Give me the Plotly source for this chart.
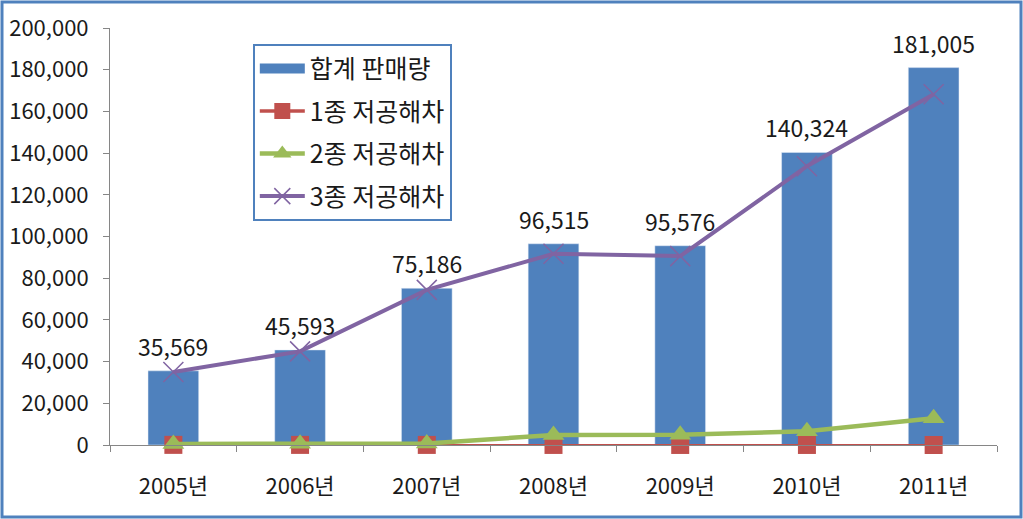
import plotly.graph_objects as go

years = ["2005년", "2006년", "2007년", "2008년", "2009년", "2010년", "2011년"]
total_sales = [35569, 45593, 75186, 96515, 95576, 140324, 181005]
type1 = [60, 50, 40, 30, 20, 20, 10]
type2 = [500, 600, 700, 4800, 4900, 6600, 12800]
type3 = [35000, 44900, 74400, 91700, 90600, 133700, 168200]

W, H = 1023, 519
ML, MR, MT, MB = 110, 26, 28, 74
FONT = "Noto Sans CJK KR, Noto Sans, sans-serif"

fig = go.Figure()
fig.add_trace(go.Bar(x=years, y=total_sales, name="합계 판매량", showlegend=False,
                     marker=dict(color="#4F81BD"), width=0.4))
# legend entry for the bar series drawn as a wide rectangle
fig.add_trace(go.Scatter(x=[None], y=[None], name="합계 판매량", mode="lines",
                         legendgroup="g0", line=dict(color="#4F81BD", width=14)))
fig.add_trace(go.Scatter(x=years, y=type1, name="1종 저공해차", mode="lines+markers",
                         legendgroup="g1", cliponaxis=False,
                         line=dict(color="#C0504D", width=3.5),
                         marker=dict(symbol="square", size=18, color="#C0504D")))
fig.add_trace(go.Scatter(x=years, y=type2, name="2종 저공해차", mode="lines+markers",
                         legendgroup="g2", cliponaxis=False,
                         line=dict(color="#9BBB59", width=4.5),
                         marker=dict(symbol="triangle-up", size=19, color="#9BBB59")))
fig.add_trace(go.Scatter(x=years, y=type3, name="3종 저공해차", mode="lines+markers",
                         legendgroup="g3", cliponaxis=False,
                         line=dict(color="#8064A2", width=4),
                         marker=dict(symbol="x-thin", size=20,
                                     line=dict(color="#8064A2", width=1.5))))

for x, v in zip(years, total_sales):
    fig.add_annotation(x=x, y=v, text=f"{v:,}", showarrow=False, yanchor="bottom",
                       yshift=6, font=dict(size=23, color="#1a1a1a", family=FONT))

pw = W - ML - MR
ph = H - MT - MB
fig.add_shape(type="rect", xref="paper", yref="paper",
              x0=(2 - ML) / pw, x1=(W - 2 - ML) / pw,
              y0=-(MB - 2) / ph, y1=1 + (MT - 2) / ph,
              line=dict(color="#4F81BD", width=3), layer="below")

fig.update_layout(
    width=W, height=H,
    margin=dict(l=ML, r=MR, t=MT, b=MB, autoexpand=False),
    paper_bgcolor="white", plot_bgcolor="white",
    font=dict(family=FONT, size=22, color="#1a1a1a"),
    showlegend=True,
    legend=dict(x=0.161, y=0.962, xanchor="left", yanchor="top",
                bordercolor="#4F81BD", borderwidth=2, bgcolor="white",
                font=dict(size=25, color="#1a1a1a", family=FONT),
                tracegroupgap=7, itemwidth=45),
    bargap=0.6,
)
fig.update_xaxes(type="category", showline=True, linecolor="#868686", linewidth=1,
                 ticks="outside", tickson="boundaries", ticklen=6, tickcolor="#868686",
                 showgrid=False, ticklabelstandoff=22, automargin=False,
                 tickfont=dict(size=22, family=FONT))
fig.update_yaxes(range=[0, 200000], dtick=20000, tickformat=",", showline=True,
                 linecolor="#868686", linewidth=1, ticks="outside", ticklen=6,
                 tickcolor="#868686", showgrid=False, zeroline=False, automargin=False,
                 ticklabelstandoff=10, tickfont=dict(size=22, family=FONT))

fig.write_html("out.html", config={"displayModeBar": False},
               post_script="document.body.style.margin='0';")
